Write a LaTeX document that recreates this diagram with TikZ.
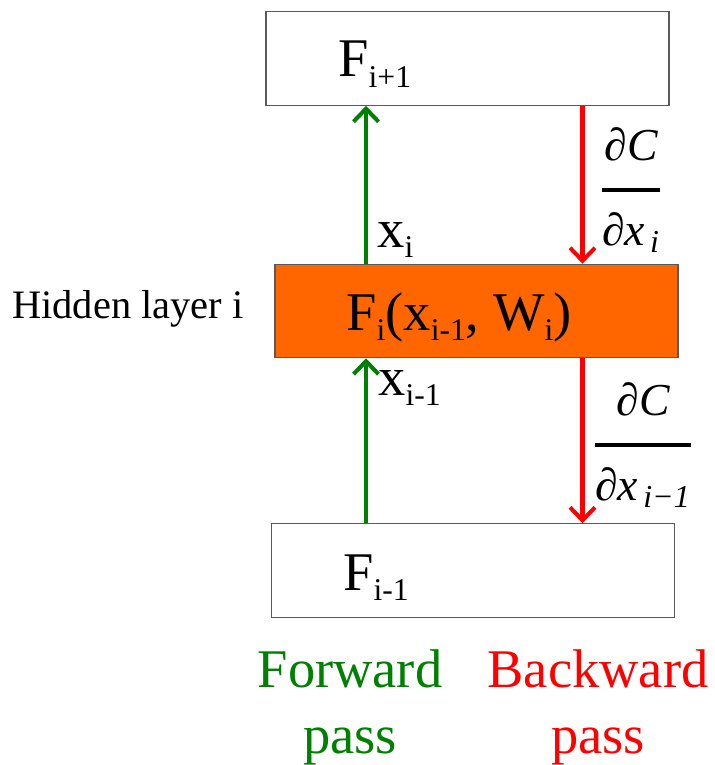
\documentclass[tikz,border=0pt]{standalone}
\usepackage{amsmath}
\usepackage{fontspec}
\setmainfont{Liberation Serif}
\usepackage{xcolor}
\usetikzlibrary{arrows.meta}

\definecolor{fwdgreen}{RGB}{0,128,0}
\definecolor{bwdred}{RGB}{255,0,0}
\definecolor{layerorange}{RGB}{255,102,0}

% lowered small index, as in the slide
\newcommand{\idx}[1]{\raisebox{-6pt}{\fontsize{18}{18}\selectfont #1}}
% gradient fraction dC/dx
\newcommand{\dCdx}[1]{$\displaystyle{\text{\itshape ∂C}\rule[-9pt]{0pt}{9pt} \above 2.2pt \rule{0pt}{24pt}\text{\itshape ∂x}_{\,\text{\itshape #1}}}$}

\begin{document}
\begin{tikzpicture}[
    layerbox/.style={draw=gray!70!black, line width=0.6pt, minimum width=8.06cm, minimum height=1.87cm, inner sep=0pt},
    bigtxt/.style={font=\fontsize{31}{37.5}\selectfont, inner sep=0pt},
    fractxt/.style={font=\fontsize{26}{30}\selectfont, inner sep=0pt},
    fwd/.style={draw=fwdgreen, line width=2.3pt, -{Straight Barb[length=0.26cm,width=0.5cm]}},
    bwd/.style={draw=bwdred, line width=2.3pt, -{Straight Barb[length=0.26cm,width=0.5cm]}}
]
    \useasboundingbox (0,0) rectangle (14.28,-15.3);

    % Draw layers
    \node[layerbox] (upper) at (9.35,-1.17) {};
    \node[layerbox, fill=layerorange] (hidden) at (9.53,-6.22) {};
    \node[layerbox] (lower) at (9.46,-11.41) {};

    % Layer names
    \node[bigtxt, anchor=base west] (upperlbl) at (6.76,-1.54) {F\idx{i+1}};
    \node[bigtxt, anchor=base west] (hiddenlbl) at (6.92,-6.6) {F\idx{i}(x\idx{i-1}, W\idx{i})};
    \node[bigtxt, anchor=base west] (lowerlbl) at (6.86,-11.8) {F\idx{i-1}};
    \node[font=\fontsize{23}{27}\selectfont, inner sep=0pt, anchor=base west] (layername) at (0.24,-6.36) {Hidden layer i};

    % Arrow columns
    \coordinate (fx) at (7.32,0);
    \coordinate (bx) at (11.65,0);

    % Forward pass
    \draw[fwd] (lower.north -| fx) -- (hidden.south -| fx);
    \draw[fwd] (hidden.north -| fx) -- (upper.south -| fx);

    % Backward pass
    \draw[bwd] (upper.south -| bx) -- (hidden.north -| bx);
    \draw[bwd] (hidden.south -| bx) -- (lower.north -| bx);

    % Labels
    \node[bigtxt, anchor=base west] (xi) at (7.54,-4.94) {x\idx{i}};
    \node[bigtxt, anchor=base west] (xprev) at (7.56,-7.9) {x\idx{i-1}};
    \node[fractxt] (gradi) at (12.62,-3.8) {\dCdx{i}};
    \node[fractxt] (gradprev) at (12.86,-8.9) {\dCdx{i−1}};

    \node[bigtxt, text=fwdgreen, align=center, anchor=north] (fwdname) at (7.0,-12.98) {Forward\\pass};
    \node[bigtxt, text=bwdred, align=center, anchor=north] (bwdname) at (11.96,-12.98) {Backward\\pass};

\end{tikzpicture}
\end{document}
